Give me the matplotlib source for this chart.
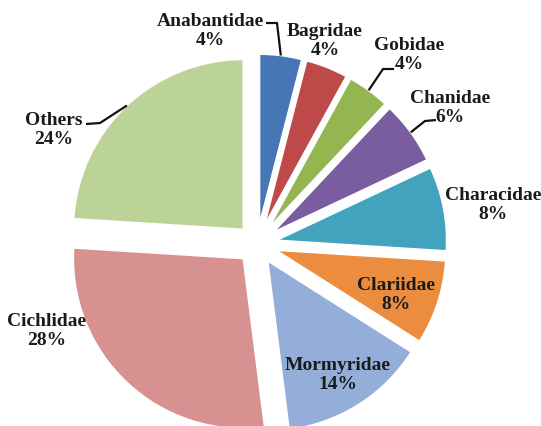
import matplotlib
matplotlib.use("Agg")
import matplotlib.pyplot as plt
import numpy as np

# Fish family composition (percent of species)
families = ["Anabantidae", "Bagridae", "Gobidae", "Chanidae", "Characidae",
            "Clariidae", "Mormyridae", "Cichlidae", "Others"]
shares = [4, 4, 4, 6, 8, 8, 14, 28, 24]
colors = ["#4676b5", "#bd4a48", "#93b650", "#7a5ca0", "#42a3bf",
          "#ec8c3e", "#93afd9", "#d69190", "#bcd398"]

W, H = 541, 426
fig = plt.figure(figsize=(W / 100, H / 100), dpi=100)
ax = fig.add_axes([0, 0, 1, 1])

def py(y):
    # convert top-down pixel row to axis y
    return H - y

cx, cy = 257, py(244)
R = 170
gap = 20  # explode offset in data units
wedges, _ = ax.pie(shares, colors=colors, startangle=90, counterclock=False,
                   radius=R, center=(cx, cy), explode=[gap] * len(shares),
                   wedgeprops=dict(edgecolor="white", linewidth=1.2))
ax.set_xlim(0, W)
ax.set_ylim(0, H)
ax.set_aspect("equal")
ax.axis("off")

# label anchor (pixel coordinates, centre of the two-line block)
label_pos = {
    "Anabantidae": (210, 31),
    "Bagridae": (325, 41),
    "Gobidae": (409, 55),
    "Chanidae": (450, 108),
    "Characidae": (493, 205),
    "Clariidae": (396, 295),
    "Mormyridae": (338, 375),
    "Cichlidae": (47, 331),
    "Others": (54, 130),
}
font = dict(family="Liberation Serif", weight="bold", size=14, color="#1a1a1a")
for name, val in zip(families, shares):
    x, y = label_pos[name]
    ax.text(x, py(y), f"{name}\n{val}%", ha="center", va="center",
            linespacing=1.2, **font)

# leader lines from label to the arc midpoint of each wedge
leaders = {
    "Anabantidae": [(266, 23), (277, 23)],
    "Gobidae": [(394, 69), (383, 69)],
    "Chanidae": [(436, 120), (425, 121)],
    "Others": [(86, 124), (100, 123)],
}
for name, pts in leaders.items():
    w = wedges[families.index(name)]
    mid = np.deg2rad((w.theta1 + w.theta2) / 2)
    ex = w.center[0] + w.r * np.cos(mid)
    ey = w.center[1] + w.r * np.sin(mid)
    xs = [p[0] for p in pts] + [ex]
    ys = [py(p[1]) for p in pts] + [ey]
    ax.plot(xs, ys, color="#111111", lw=1.6, solid_capstyle="butt")

fig.savefig("out.png", dpi=100)
